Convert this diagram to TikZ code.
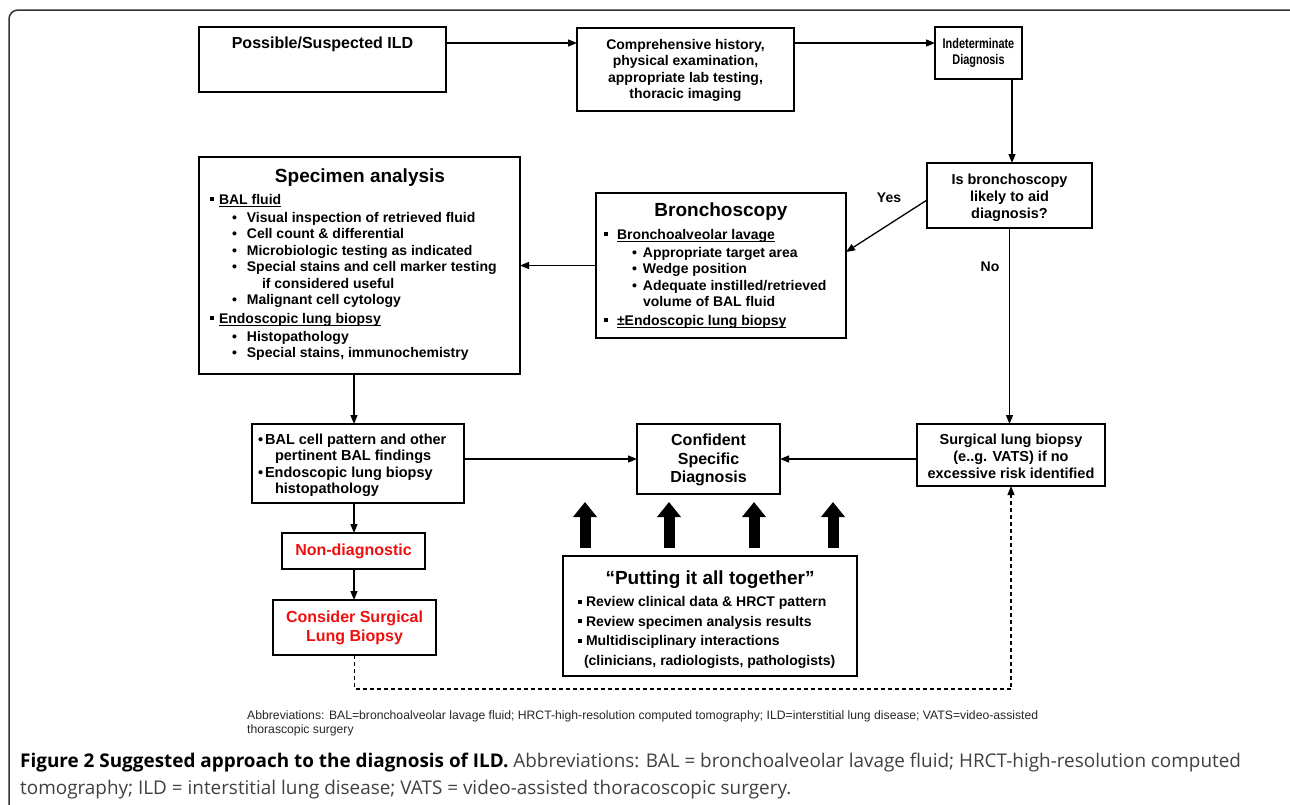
\documentclass[tikz,border=0pt]{standalone}
\usepackage{fontspec}
\setmainfont{Liberation Sans}
\newfontfamily\capfont{Open Sans}
\newfontfamily\narrowfont[FakeStretch=0.78]{Liberation Sans}
\usetikzlibrary{arrows.meta}
\definecolor{framecol}{gray}{0.2}
\definecolor{captxt}{gray}{0.25}
\definecolor{abbrcol}{gray}{0.15}
\definecolor{redtxt}{RGB}{240,15,15}
\newcommand\fs[2]{\fontsize{#1}{#2}\selectfont}
\newcommand\sqb{\rule[3pt]{4pt}{4pt}}
\newcommand\ul[1]{\setbox0\hbox{#1}\rlap{\rule[-2.6pt]{\wd0}{1.1pt}}\box0}
\newcommand\sbul[2]{\hspace*{#1}\textbullet\hspace{#2}}
\begin{document}
\begin{tikzpicture}[x=1pt,y=-1pt,
  box/.style={draw, line width=1.4pt, inner sep=0pt, outer sep=0pt, align=center},
  txt/.style={inner sep=0pt, outer sep=0pt, font=\bfseries\fs{14}{16.5}},
  arr/.style={line width=1.3pt, -{Triangle[length=9pt,width=7pt]}},
  dasharr/.style={line width=1.1pt, dash pattern=on 4pt off 3pt, -{Triangle[length=9pt,width=7pt]}},
  blockarr/.style={line width=11pt, -{Triangle[length=15pt,width=23pt]}},
  lbl/.style={inner sep=0pt, font=\bfseries\fs{14}{16}}
]
\useasboundingbox (0,0) rectangle (1290,804);
\clip (0,0) rectangle (1290,804);
% frame
\draw[framecol, line width=1.5pt, rounded corners=9pt] (9,10) rectangle (1298,850);

% top row
\node[box, minimum width=247pt, minimum height=65pt] (A) at (322.5,59.5) {};
\node[txt, font=\bfseries\fs{16}{18}] (Atxt) at (322.5,44.5) {Possible/Suspected ILD};
\node[box, minimum width=217pt, minimum height=83pt, font=\bfseries\fs{14}{16.2}] (B) at (685.5,69.5)
  {\rule{0pt}{12pt}Comprehensive history,\\physical examination,\\appropriate lab testing,\\thoracic imaging};
\node[box, minimum width=87pt, minimum height=52pt, font=\narrowfont\bfseries\fs{14}{16}] (C) at (978.5,53)
  {Indeterminate\\Diagnosis};
\coordinate (yrow) at (0,43);
\draw[arr] (A.east |- yrow) -- (B.west |- yrow);
\draw[arr] (B.east |- yrow) -- (C.west |- yrow);

% question
\node[box, minimum width=165pt, minimum height=65pt, font=\bfseries\fs{14.5}{17}] (Q) at (1009.5,195.5)
  {\rule{0pt}{16pt}Is bronchoscopy\\likely to aid\\diagnosis?};
\coordinate (xq) at (1012,0);
\draw[arr] (C.south -| xq) -- (Q.north -| xq);

% bronchoscopy
\node[box, minimum width=250pt, minimum height=145pt] (Br) at (721,265.5) {};
\node[txt, font=\bfseries\fs{19}{22}] (Brtitle) at (721,212) {Bronchoscopy};
\node[txt, anchor=north west, align=left] (Brlist) at (604,229) {%
\sqb\hspace{9pt}\ul{Bronchoalveolar lavage}\\[1.5pt]
\sbul{28pt}{6pt}Appropriate target area\\
\sbul{28pt}{6pt}Wedge position\\
\sbul{28pt}{6pt}Adequate instilled/retrieved\\
\hspace*{39pt}volume of BAL fluid\\[2pt]
\sqb\hspace{9pt}\ul{±Endoscopic lung biopsy}};

% specimen
\node[box, minimum width=321pt, minimum height=217pt] (S) at (359.5,265.5) {};
\node[txt, font=\bfseries\fs{19}{22}] (Stitle) at (360,178) {Specimen analysis};
\node[txt, anchor=north west, align=left] (Slist) at (210,194) {%
\sqb\hspace{5pt}\ul{BAL fluid}\\[1.5pt]
\sbul{22pt}{10pt}Visual inspection of retrieved fluid\\
\sbul{22pt}{10pt}Cell count \& differential\\
\sbul{22pt}{10pt}Microbiologic testing as indicated\\
\sbul{22pt}{10pt}Special stains and cell marker testing\\
\hspace*{52pt}if considered useful\\
\sbul{22pt}{10pt}Malignant cell cytology\\[2pt]
\sqb\hspace{5pt}\ul{Endoscopic lung biopsy}\\[1.5pt]
\sbul{22pt}{10pt}Histopathology\\
\sbul{22pt}{10pt}Special stains, immunochemistry};

\draw[arr] (Q.west |- 0,200) -- (Br.east |- 0,252);
\node[lbl] (yes) at (889,198) {Yes};
\draw[arr] (Br.west) -- (S.east);

% middle row
\node[box, minimum width=212pt, minimum height=79pt] (P) at (358,463.5) {};
\node[txt, anchor=north west, align=left, font=\bfseries\fs{14.5}{16.4}] (Plist) at (258,434) {%
\textbullet\hspace{2pt}BAL cell pattern and other\\
\hspace*{17pt}pertinent BAL findings\\
\textbullet\hspace{2pt}Endoscopic lung biopsy\\
\hspace*{17pt}histopathology};
\node[box, minimum width=143pt, minimum height=70pt, font=\bfseries\fs{16}{18.5}] (D) at (708.5,459)
  {\rule{0pt}{14pt}Confident\\Specific\\Diagnosis};
\node[box, minimum width=188pt, minimum height=62pt, font=\bfseries\fs{14.5}{17}] (G) at (1011,455)
  {\rule{0pt}{12.5pt}Surgical lung biopsy\\(e..g. VATS) if no\\excessive risk identified};
\coordinate (xl) at (354,0);
\draw[arr] (S.south -| xl) -- (P.north -| xl);
\draw[arr] (P.east |- D.west) -- (D.west);
\draw[arr] (G.west |- D.east) -- (D.east);
\draw[arr] (Q.south) -- (Q.south |- G.north);
\node[lbl] (no) at (990,267) {No};

% bottom left
\node[box, minimum width=143pt, minimum height=36pt, text=redtxt, font=\bfseries\fs{16}{19}] (N) at (353.5,551) {Non-diagnostic};
\node[box, minimum width=163pt, minimum height=55pt, text=redtxt, font=\bfseries\fs{16}{19}] (K) at (354.5,627.5) {Consider Surgical\\Lung Biopsy};
\draw[arr] (P.south -| xl) -- (N.north -| xl);
\draw[arr] (N.south -| xl) -- (K.north -| xl);
\coordinate (ydash) at (0,689);
\draw[dasharr] (K.south) -- (K.south |- ydash) -| (G.south);

% putting it all together
\node[box, minimum width=294pt, minimum height=120pt] (T) at (710,616) {};
\node[txt, font=\bfseries\fs{19}{22}] (Ttitle) at (710,580) {“Putting it all together”};
\node[txt, anchor=north west, align=left, font=\bfseries\fs{14}{19.6}] (Tlist) at (578,596.5) {%
\sqb\hspace{4pt}Review clinical data \& HRCT pattern\\
\sqb\hspace{4pt}Review specimen analysis results\\
\sqb\hspace{4pt}Multidisciplinary interactions\\
\hspace*{6pt}(clinicians, radiologists, pathologists)};
\foreach \i/\x in {1/585,2/669,3/754,4/833}{
  \coordinate (tip\i) at (\x,502);
  \draw[blockarr] (T.north -| tip\i) ++(0,-8) -- (tip\i);
}

% abbreviations and caption
\node[inner sep=0pt, anchor=base west, align=left, text=abbrcol, font=\fs{12.2}{14}] (abbr) at (247,733)
  {Abbreviations: BAL=bronchoalveolar lavage fluid; HRCT-high-resolution computed tomography; ILD=interstitial lung disease; VATS=video-assisted\\thorascopic surgery};
\node[inner sep=0pt, anchor=base west, align=left, text=captxt, font=\capfont\fs{18.9}{27}] (cap) at (20,794)
  {{\color{black}\bfseries Figure 2 Suggested approach to the diagnosis of ILD.} Abbreviations: BAL = bronchoalveolar lavage fluid; HRCT-high-resolution computed\\tomography; ILD = interstitial lung disease; VATS = video-assisted thoracoscopic surgery.};
\end{tikzpicture}
\end{document}
